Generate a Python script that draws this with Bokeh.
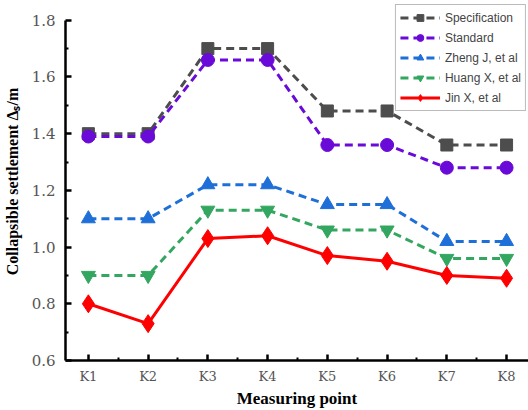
from bokeh.plotting import figure
from bokeh.models import FixedTicker, Range1d
from bokeh.embed import file_html
from bokeh.resources import INLINE

points = ["K1", "K2", "K3", "K4", "K5", "K6", "K7", "K8"]
x = [1, 2, 3, 4, 5, 6, 7, 8]
specification = [1.40, 1.40, 1.70, 1.70, 1.48, 1.48, 1.36, 1.36]
standard = [1.39, 1.39, 1.66, 1.66, 1.36, 1.36, 1.28, 1.28]
zheng = [1.10, 1.10, 1.22, 1.22, 1.15, 1.15, 1.02, 1.02]
huang = [0.90, 0.90, 1.13, 1.13, 1.06, 1.06, 0.96, 0.96]
jin = [0.80, 0.73, 1.03, 1.04, 0.97, 0.95, 0.90, 0.89]
y_ticks = [0.6, 0.8, 1.0, 1.2, 1.4, 1.6, 1.8]

p = figure(width=528, height=410, output_backend="svg", toolbar_location=None,
           x_range=Range1d(0.617, 8.367), y_range=Range1d(0.6, 1.8626),
           min_border_left=63, min_border_right=0, min_border_top=2, min_border_bottom=45)
p.outline_line_color = None
p.grid.grid_line_color = None

series = [
    ("Specification", specification, "#4d4d4d", "square", 12, "8 5"),
    ("Standard", standard, "#6a0ad8", "circle", 13, "8 5"),
    ("Zheng J, et al", zheng, "#1f6fd8", "triangle", 14, "8 5"),
    ("Huang X, et al", huang, "#33a660", "inverted_triangle", 14, "8 5"),
    ("Jin X, et al", jin, "#ff0000", "diamond", 18, "solid"),
]
for name, vals, col, marker, size, dash in series:
    p.line(x, vals, line_color=col, line_width=3, line_dash=dash, legend_label=name)
    p.scatter(x, vals, marker=marker, size=size, fill_color=col, line_color=col, legend_label=name)

xa = p.xaxis[0]
xa.ticker = FixedTicker(ticks=x, minor_ticks=[1.5, 2.5, 3.5, 4.5, 5.5, 6.5, 7.5])
xa.major_label_overrides = {i: s for i, s in zip(x, points)}
ya = p.yaxis[0]
ya.ticker = FixedTicker(ticks=y_ticks, minor_ticks=[0.7, 0.9, 1.1, 1.3, 1.5, 1.7])
ya.bounds = (0.6, 1.8)
ya.major_label_overrides = {t: f"{t:.1f}" for t in y_ticks}

for ax in (xa, ya):
    ax.axis_line_width = 2.5
    ax.axis_line_color = "black"
    ax.major_tick_in = 6
    ax.major_tick_out = 0
    ax.minor_tick_in = 3
    ax.minor_tick_out = 0
    ax.major_tick_line_width = 2.5
    ax.minor_tick_line_width = 2
    ax.major_label_text_font = "DejaVu Serif"
    ax.major_label_text_color = "#555555"
    ax.major_label_text_font_style = "normal"
    ax.axis_label_text_font = "Liberation Serif"
    ax.axis_label_text_font_style = "bold"
    ax.axis_label_text_color = "black"

xa.major_label_text_font_size = "13px"
ya.major_label_text_font_size = "15px"
xa.major_label_standoff = 8
ya.major_label_standoff = 10
xa.axis_label = "Measuring point"
xa.axis_label_text_font_size = "17px"
xa.axis_label_standoff = 2
ya.axis_label = "Collapsible settlement Δₛ/m"
ya.axis_label_text_font_size = "16px"
ya.axis_label_standoff = 8

lg = p.legend[0]
lg.location = "top_right"
lg.margin = 2
lg.padding = 4
lg.spacing = 3
lg.label_height = 17
lg.glyph_height = 17
lg.glyph_width = 40
lg.label_standoff = 5
lg.label_text_font = "Liberation Sans"
lg.label_text_font_size = "12px"
lg.border_line_color = "#777777"
lg.border_line_width = 1
lg.background_fill_alpha = 1

open("out.html", "w").write(file_html(p, INLINE))
